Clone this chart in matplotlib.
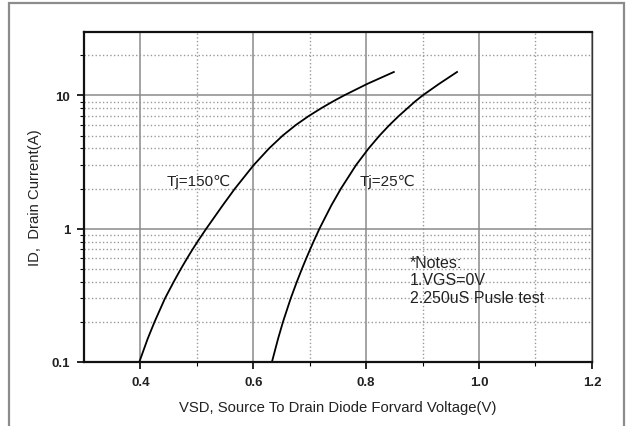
import numpy as np
import matplotlib
matplotlib.use('Agg')
import matplotlib.pyplot as plt
from matplotlib.ticker import FixedLocator, NullFormatter
from matplotlib.patches import Rectangle

plt.rcParams['font.family'] = ['Liberation Sans', 'DejaVu Sans']

# Source-drain diode forward characteristic
id_levels = [0.1, 0.15, 0.2, 0.3, 0.4, 0.5, 0.6, 0.7, 0.8, 1.0, 1.5,
             2, 3, 4, 5, 6, 7, 8, 9, 10, 12.2, 15]
vsd_150 = [0.398, 0.413, 0.425, 0.4435, 0.459, 0.4717, 0.4827, 0.4924, 0.5012,
           0.5166, 0.5459, 0.5674, 0.6006, 0.6278, 0.6521, 0.6753, 0.698, 0.7199,
           0.7407, 0.7607, 0.8017, 0.849]
vsd_25 = [0.633, 0.644, 0.6526, 0.6663, 0.6772, 0.6862, 0.6939, 0.7007, 0.7067,
          0.7172, 0.7384, 0.7553, 0.782, 0.8043, 0.8237, 0.8413, 0.8576, 0.8729,
          0.8865, 0.900, 0.929, 0.961]

x_ticks = [0.4, 0.6, 0.8, 1.0, 1.2]
x_minor = [0.5, 0.7, 0.9, 1.1]
y_ticks = [0.1, 1, 10]
y_tick_labels = ['0.1', '1', '10']
y_minor = [0.2, 0.3, 0.4, 0.5, 0.6, 0.7, 0.8, 0.9,
           2, 3, 4, 5, 6, 7, 8, 9, 20]

fig = plt.figure(figsize=(6.27, 4.27), dpi=100)
ax = fig.add_axes([0.134, 0.15, 0.81, 0.773])

# gray outer frame
fig.patches.append(Rectangle((9 / 627, -0.05), 615 / 627, 0.05 + 423 / 427,
                             transform=fig.transFigure, fill=False,
                             edgecolor='#8c8c8c', linewidth=1.6))

ax.set_yscale('log')
ax.set_xlim(0.3, 1.2)
ax.set_ylim(0.1, 30)

ax.xaxis.set_major_locator(FixedLocator(x_ticks))
ax.xaxis.set_minor_locator(FixedLocator(x_minor))
ax.yaxis.set_major_locator(FixedLocator(y_ticks))
ax.yaxis.set_minor_locator(FixedLocator(y_minor))
ax.yaxis.set_minor_formatter(NullFormatter())
ax.set_yticklabels(y_tick_labels)
ax.set_xticklabels(['%.1f' % v for v in x_ticks])

ax.grid(which='major', color='#8a8a8a', linestyle='-', linewidth=1.1)
ax.grid(which='minor', color='#9a9a9a', linestyle=':', linewidth=1.0)
ax.set_axisbelow(True)

ax.tick_params(which='major', direction='out', length=5, width=1.2,
               labelsize=9.5, colors='black', pad=5)
ax.tick_params(which='minor', direction='out', length=3, width=0.8)
for lab in ax.get_xticklabels() + ax.get_yticklabels():
    lab.set_fontweight('bold')
    lab.set_color('#222222')

for side in ['left', 'bottom', 'top']:
    ax.spines[side].set_linewidth(1.6)
    ax.spines[side].set_color('#111111')
ax.spines['right'].set_linewidth(1.0)
ax.spines['right'].set_color('#333333')

ax.plot(vsd_150, id_levels, color='black', linewidth=1.3)
ax.plot(vsd_25, id_levels, color='black', linewidth=1.3)

ax.text(0.446, 2.3, 'Tj=150℃', fontsize=11, color='#222222',
        va='center', ha='left')
ax.text(0.788, 2.3, 'Tj=25℃', fontsize=11, color='#222222',
        va='center', ha='left')

notes = ['*Notes:', '1.VGS=0V', '2.250uS Pusle test']
note_y = [0.56, 0.416, 0.304]
for txt, yv in zip(notes, note_y):
    ax.text(0.878, yv, txt, fontsize=11.5, color='#222222', va='center', ha='left')

ax.set_xlabel('VSD, Source To Drain Diode Forvard Voltage(V)', fontsize=10.7,
              color='#222222', labelpad=9)
ax.set_ylabel('ID,  Drain Current(A)', fontsize=10.7, color='#222222', labelpad=7)

fig.savefig('out.png', dpi=100)
